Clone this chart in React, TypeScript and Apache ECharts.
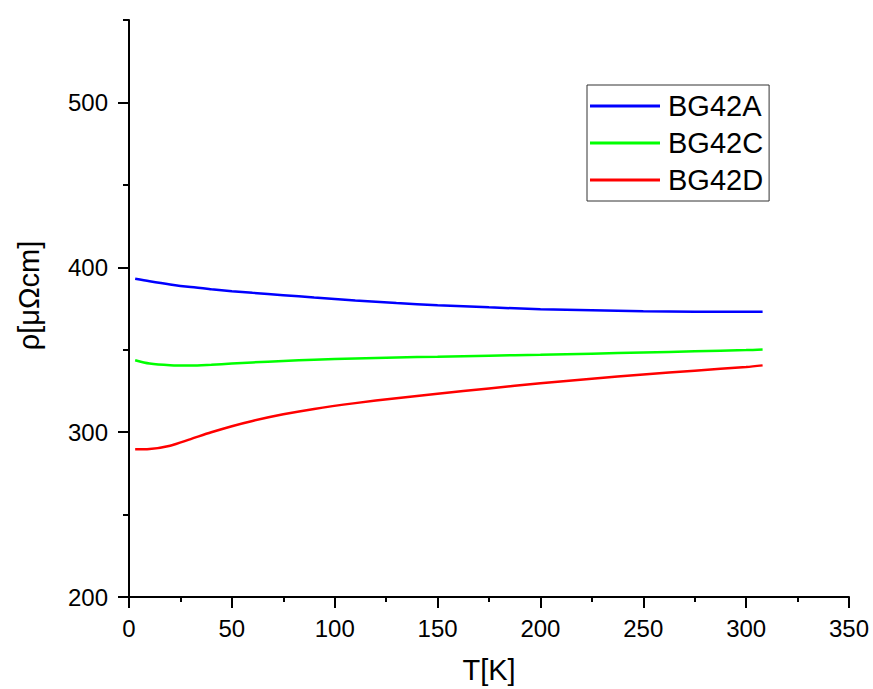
import React, { useEffect, useRef } from "react";
import * as echarts from "echarts";

const temperatures = [3, 10, 20, 30, 40, 50, 60, 75, 90, 110, 130, 150, 175, 200, 225, 250, 275, 300, 308];
const bg42A = [393, 391.5, 389.6, 388, 386.7, 385.5, 384.5, 383.1, 381.7, 379.9, 378.3, 377, 375.7, 374.6, 373.9, 373.4, 373.1, 373, 373.1];
const bg42C = [343.6, 341.6, 340.6, 340.4, 340.9, 341.6, 342.3, 343.2, 343.9, 344.7, 345.3, 345.8, 346.4, 346.9, 347.6, 348.3, 349, 349.8, 350.2];
const bg42D = [289.6, 289.8, 291.8, 295.8, 299.9, 303.6, 306.8, 310.8, 314.1, 317.6, 320.6, 323.3, 326.5, 329.6, 332.4, 335, 337.3, 339.5, 340.5];
const seriesNames = ["BG42A", "BG42C", "BG42D"];
const seriesColors = ["#0000ff", "#00ff00", "#ff0000"];
const yMajorTicks = [200, 300, 400, 500];

export default function App() {
  const ref = useRef<HTMLDivElement>(null);
  useEffect(() => {
    if (!ref.current) return;
    const chart = echarts.init(ref.current, undefined, { renderer: "svg" });
    const allData = [bg42A, bg42C, bg42D];
    const font = "Liberation Sans, Arial, sans-serif";
    chart.setOption({
      animation: false,
      backgroundColor: "#ffffff",
      textStyle: { fontFamily: font },
      grid: { left: 129, top: 20, right: 24, bottom: 89, containLabel: false },
      legend: {
        orient: "vertical",
        left: 587,
        top: 85,
        data: seriesNames,
        itemWidth: 70,
        itemHeight: 14,
        itemGap: 7,
        padding: [6, 6, 6, 3],
        borderColor: "#333333",
        borderWidth: 1,
        backgroundColor: "#ffffff",
        icon: "path://M0,0 L70,0 L70,3 L0,3 Z",
        textStyle: { fontSize: 29, color: "#000", fontFamily: font, lineHeight: 30, padding: [0, 0, 0, 3] },
      },
      xAxis: {
        type: "value",
        min: 0,
        max: 350,
        interval: 50,
        name: "T[K]",
        nameLocation: "middle",
        nameGap: 58,
        nameTextStyle: { fontSize: 29, color: "#000", fontFamily: font },
        axisLine: { show: true, onZero: false, lineStyle: { color: "#000", width: 2 } },
        axisTick: { show: true, inside: false, length: 11, lineStyle: { color: "#000", width: 2 } },
        minorTick: { show: true, splitNumber: 2, length: 5, lineStyle: { color: "#000", width: 2 } },
        axisLabel: { fontSize: 24, color: "#000", margin: 19, fontFamily: font },
        splitLine: { show: false },
      },
      yAxis: [
        {
          type: "value",
          min: 200,
          max: 550,
          interval: 50,
          position: "left",
          axisLine: { show: true, onZero: false, lineStyle: { color: "#000", width: 2 } },
          axisTick: { show: true, inside: false, length: 6, lineStyle: { color: "#000", width: 2 } },
          axisLabel: { show: false },
          splitLine: { show: false },
        },
        {
          type: "value",
          min: 200,
          max: 550,
          interval: 100,
          position: "left",
          name: "ρ[μΩcm]",
          nameLocation: "middle",
          nameGap: 86,
          nameTextStyle: { fontSize: 29, color: "#000", fontFamily: font, padding: [0, 0, 0, 26] },
          axisLine: { show: false },
          axisTick: { show: true, inside: false, length: 11, customValues: yMajorTicks, lineStyle: { color: "#000", width: 2 } },
          axisLabel: { fontSize: 24, color: "#000", margin: 21, fontFamily: font, customValues: yMajorTicks },
          splitLine: { show: false },
        },
      ],
      series: seriesNames.map((name, i) => ({
        name,
        type: "line",
        yAxisIndex: 0,
        data: temperatures.map((t, j) => [t, allData[i][j]]),
        smooth: 0.3,
        symbol: "none",
        showSymbol: false,
        lineStyle: { color: seriesColors[i], width: 2.5 },
        itemStyle: { color: seriesColors[i] },
      })),
    });
    return () => chart.dispose();
  }, []);
  return <div ref={ref} style={{ position: "fixed", left: 0, top: 0, width: 873, height: 689 }} />;
}
